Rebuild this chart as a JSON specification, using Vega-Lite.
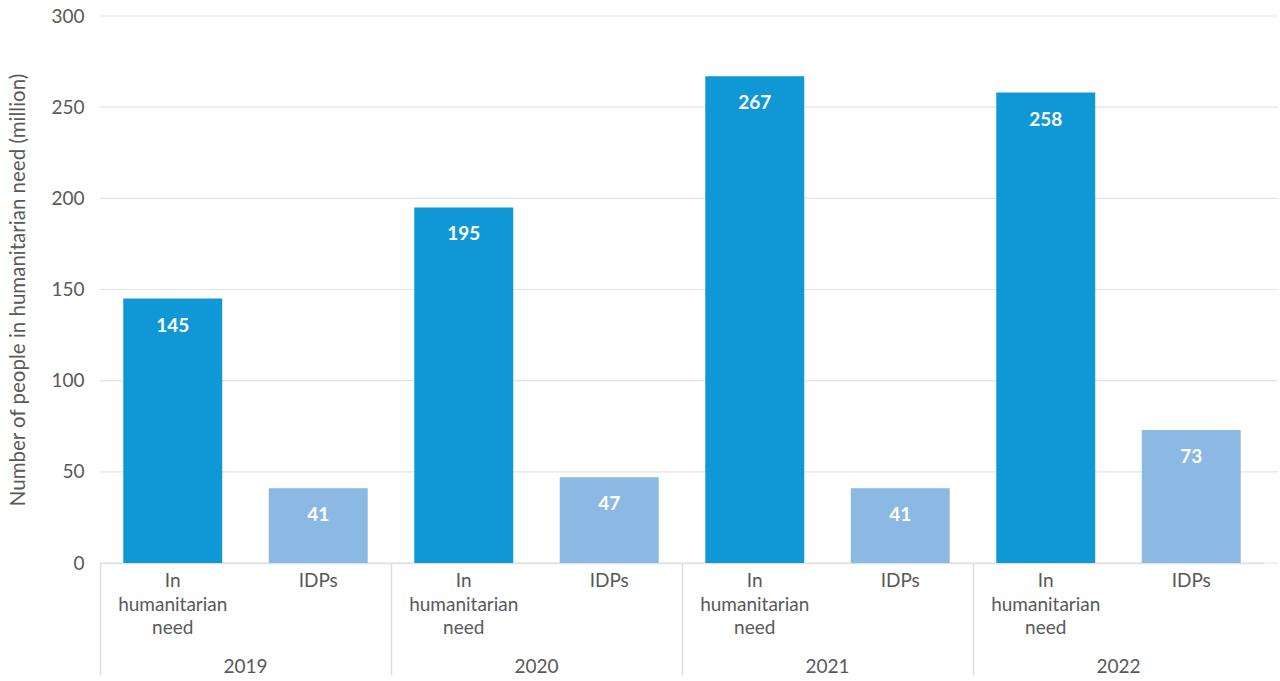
{
  "$schema": "https://vega.github.io/schema/vega-lite/v6.json",
  "width": 1178,
  "height": 547,
  "autosize": {"type": "none"},
  "padding": {"left": 100, "top": 16, "right": 2, "bottom": 118},
  "config": {"font": "Lato", "view": {"stroke": null}},
  "datasets": {
    "bars": [
      {"year": "2019", "category": "In humanitarian need", "value": 145},
      {"year": "2019", "category": "IDPs", "value": 41},
      {"year": "2020", "category": "In humanitarian need", "value": 195},
      {"year": "2020", "category": "IDPs", "value": 47},
      {"year": "2021", "category": "In humanitarian need", "value": 267},
      {"year": "2021", "category": "IDPs", "value": 41},
      {"year": "2022", "category": "In humanitarian need", "value": 258},
      {"year": "2022", "category": "IDPs", "value": 73}
    ],
    "grid": [
      {"tick": 0}, {"tick": 50}, {"tick": 100}, {"tick": 150},
      {"tick": 200}, {"tick": 250}, {"tick": 300}
    ]
  },
  "layer": [
    {
      "data": {"name": "grid"},
      "mark": {"type": "rule", "color": "#e4e4e4", "strokeWidth": 1.2},
      "encoding": {
        "y": {
          "field": "tick",
          "type": "quantitative",
          "scale": {"domain": [0, 300]},
          "axis": {
            "title": "Number of people in humanitarian need (million)",
            "titleFontSize": 20.5,
            "titleFontWeight": "normal",
            "titleColor": "#595959",
            "titlePadding": 22,
            "values": [0, 50, 100, 150, 200, 250, 300],
            "domain": false,
            "ticks": false,
            "grid": false,
            "labelPadding": 16,
            "labelFontSize": 19,
            "labelColor": "#595959"
          }
        }
      }
    },
    {
      "data": {"name": "bars"},
      "mark": {"type": "bar"},
      "encoding": {
        "x": {
          "field": "year",
          "type": "nominal",
          "scale": {"range": [0, 1164], "paddingInner": 0, "paddingOuter": 0},
          "axis": {
            "title": null,
            "labelAngle": 0,
            "bandPosition": 0,
            "tickExtra": false,
            "tickSize": 112,
            "tickColor": "#dddddd",
            "tickWidth": 1.5,
            "domainColor": "#dddddd",
            "domainWidth": 1.5,
            "labelPadding": -18,
            "labelFontSize": 19,
            "labelColor": "#595959",
            "labelFont": "Lato"
          }
        },
        "xOffset": {
          "field": "category",
          "type": "nominal",
          "sort": ["In humanitarian need", "IDPs"],
          "scale": {"paddingInner": 0.32, "paddingOuter": 0.16}
        },
        "y": {
          "field": "value",
          "type": "quantitative",
          "title": "Number of people in humanitarian need (million)"
        },
        "color": {
          "field": "category",
          "type": "nominal",
          "scale": {"domain": ["In humanitarian need", "IDPs"], "range": ["#1097d5", "#8bb9e3"]},
          "legend": null
        }
      }
    },
    {
      "data": {"name": "bars"},
      "mark": {"type": "text", "baseline": "middle", "dy": 27, "color": "white", "fontWeight": "bold", "fontSize": 19},
      "encoding": {
        "x": {"field": "year", "type": "nominal"},
        "xOffset": {"field": "category", "type": "nominal", "sort": ["In humanitarian need", "IDPs"]},
        "y": {"field": "value", "type": "quantitative"},
        "text": {"field": "value", "type": "quantitative"}
      }
    },
    {
      "data": {"name": "bars"},
      "mark": {"type": "text", "baseline": "top", "dy": 9, "color": "#595959", "fontSize": 19, "lineBreak": " ", "lineHeight": 23.5},
      "encoding": {
        "x": {"field": "year", "type": "nominal"},
        "xOffset": {"field": "category", "type": "nominal", "sort": ["In humanitarian need", "IDPs"]},
        "y": {"datum": 0},
        "text": {"field": "category", "type": "nominal"}
      }
    }
  ]
}
